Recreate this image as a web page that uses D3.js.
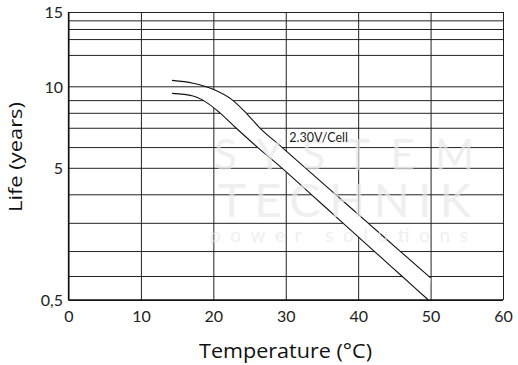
<!DOCTYPE html>
<html>
<head>
<meta charset="utf-8">
<script src="https://cdn.jsdelivr.net/npm/d3@7/dist/d3.min.js"></script>
<style>
  html, body { margin: 0; padding: 0; background: #fff; }
  svg { display: block; }
</style>
</head>
<body>
<svg id="chart" width="518" height="365"></svg>
<script>
// ---------- data ----------
const xTicks = [0, 10, 20, 30, 40, 50, 60];
const yGridValues = [0.5, 1, 2, 3, 4, 5, 6, 7, 8, 9, 10, 11, 12, 13, 14, 15];
const yTickValues = [0.5, 5, 10, 15];
const yTickLabels = ["0,5", "5", "10", "15"];

// upper boundary of the 2.30V/Cell band
const upperTemp = [14.3, 17.2, 19.9, 22.65, 24.5, 26.4, 29.45, 32.7, 36.86, 41.34, 45.77, 50.0];
const upperLife = [10.19, 10.1, 9.8, 9.0, 8.0, 7.0, 6.0, 5.0, 4.0, 3.0, 2.0, 0.96];
// lower boundary
const lowerTemp = [14.3, 17.2, 18.55, 20.9, 23.1, 26.07, 29.44, 33.5, 37.87, 42.19, 46.02, 49.7];
const lowerLife = [9.49, 9.3, 9.0, 8.0, 7.0, 6.0, 5.0, 4.0, 3.0, 2.0, 1.0, 0.5];

const seriesLabel = "2.30V/Cell";
const xTitle = "Temperature (°C)";
const yTitle = "Life (years)";

// ---------- layout ----------
const svg = d3.select("#chart");
const mLeft = 68.5, mRight = 503, mTop = 12, mBottom = 300;
const H = mBottom - mTop;

const x = d3.scaleLinear().domain([0, 60]).range([mLeft, mRight]);
// the chart's own non-uniform vertical scale (piecewise linear between grid lines)
const yAnchorFractions = [0, 0.0833, 0.170, 0.268, 0.367, 0.459, 0.531, 0.598, 0.650, 0.694, 0.742, 0.851, 0.906, 0.941, 0.971, 1];
const y = d3.scaleLinear()
  .domain(yGridValues)
  .range(yAnchorFractions.map(f => mBottom - f * H));

const gridColor = "#222";

// horizontal grid
svg.append("g")
  .attr("transform", `translate(${mLeft},0)`)
  .call(d3.axisLeft(y).tickValues(yGridValues).tickSize(-(mRight - mLeft)).tickFormat(""))
  .call(g => g.select(".domain").remove())
  .call(g => g.selectAll(".tick line").attr("stroke", gridColor).attr("stroke-width", 1));

// vertical grid
svg.append("g")
  .attr("transform", `translate(0,${mBottom})`)
  .call(d3.axisBottom(x).tickValues(xTicks).tickSize(-(mBottom - mTop)).tickFormat(""))
  .call(g => g.select(".domain").remove())
  .call(g => g.selectAll(".tick line").attr("stroke", gridColor).attr("stroke-width", 1));

// axis lines
svg.append("line").attr("x1", mLeft).attr("x2", mLeft).attr("y1", mTop).attr("y2", mBottom)
  .attr("stroke", "#111").attr("stroke-width", 1.3);
svg.append("line").attr("x1", mLeft).attr("x2", mRight).attr("y1", mBottom).attr("y2", mBottom)
  .attr("stroke", "#111").attr("stroke-width", 1.3);

// tick labels
const tickFont = "Lato, 'Open Sans', sans-serif";
svg.append("g")
  .attr("transform", `translate(${mLeft},0)`)
  .call(d3.axisLeft(y).tickValues(yTickValues).tickSize(0).tickPadding(5.5)
    .tickFormat(d => yTickLabels[yTickValues.indexOf(d)]))
  .call(g => g.select(".domain").remove())
  .call(g => g.selectAll("text").attr("font-family", tickFont).attr("font-size", 16)
    .attr("fill", "#222").attr("dy", "0.36em"));

svg.append("g")
  .attr("transform", `translate(0,${mBottom})`)
  .call(d3.axisBottom(x).tickValues(xTicks).tickSize(0).tickPadding(11))
  .call(g => g.select(".domain").remove())
  .call(g => g.selectAll("text").attr("font-family", tickFont).attr("font-size", 16)
    .attr("fill", "#222"));

// curves
const pts = (tArr, lArr) => tArr.map((t, i) => [x(t), y(lArr[i])]);
const line = d3.line().curve(d3.curveMonotoneX);
const upperPts = pts(upperTemp, upperLife);
const lowerPts = pts(lowerTemp, lowerLife);

const bandG = svg.append("g");
const upperPath = bandG.append("path").attr("d", line(upperPts))
  .attr("fill", "none").attr("stroke", "#111").attr("stroke-width", 1.1);
const lowerPath = bandG.append("path").attr("d", line(lowerPts))
  .attr("fill", "none").attr("stroke", "#111").attr("stroke-width", 1.1);

// white fill between the two curves
function sample(pathNode, cutX) {
  const L = pathNode.getTotalLength();
  const out = [];
  for (let i = 0; i <= 400; i++) {
    const p = pathNode.getPointAtLength(L * i / 400);
    if (p.x >= cutX) out.push([p.x, p.y]);
  }
  return out;
}
const up = sample(upperPath.node(), x(20));
const lo = sample(lowerPath.node(), x(18.6));
const poly = up.concat(lo.reverse());
bandG.insert("path", ":first-child")
  .attr("d", "M" + poly.map(p => p.join(",")).join("L") + "Z")
  .attr("fill", "#fff").attr("stroke", "none");

// watermark (drawn faintly over the grid)
const wm = svg.append("g").attr("font-family", "Lato, 'Open Sans', sans-serif")
  .attr("fill", "#e8e8e8").attr("fill-opacity", 0.7);
wm.append("text").attr("x", 214).attr("y", 170).attr("font-size", 42)
  .attr("textLength", 260).attr("lengthAdjust", "spacing").text("SYSTEM");
wm.append("text").attr("x", 218).attr("y", 217).attr("font-size", 47)
  .attr("textLength", 253).attr("lengthAdjust", "spacing").text("TECHNIK");
wm.append("text").attr("x", 210).attr("y", 242).attr("font-size", 19)
  .attr("textLength", 258).attr("lengthAdjust", "spacing").text("power solutions");

// series label
svg.append("text")
  .attr("x", x(30.5)).attr("y", y(6.27))
  .attr("font-family", "Lato, 'Open Sans', sans-serif").attr("font-size", 12.5)
  .attr("fill", "#222")
  .text(seriesLabel);

// axis titles
svg.append("text")
  .attr("transform", `translate(22,157) rotate(-90)`)
  .attr("text-anchor", "middle")
  .attr("font-family", "'Open Sans', sans-serif").attr("font-size", 18)
  .attr("textLength", 110).attr("lengthAdjust", "spacingAndGlyphs")
  .attr("fill", "#111")
  .text(yTitle);
svg.append("text")
  .attr("x", 285.5).attr("y", 358)
  .attr("text-anchor", "middle")
  .attr("font-family", "'Open Sans', sans-serif").attr("font-size", 20)
  .attr("textLength", 173).attr("lengthAdjust", "spacingAndGlyphs")
  .attr("fill", "#111")
  .text(xTitle);
</script>
</body>
</html>
